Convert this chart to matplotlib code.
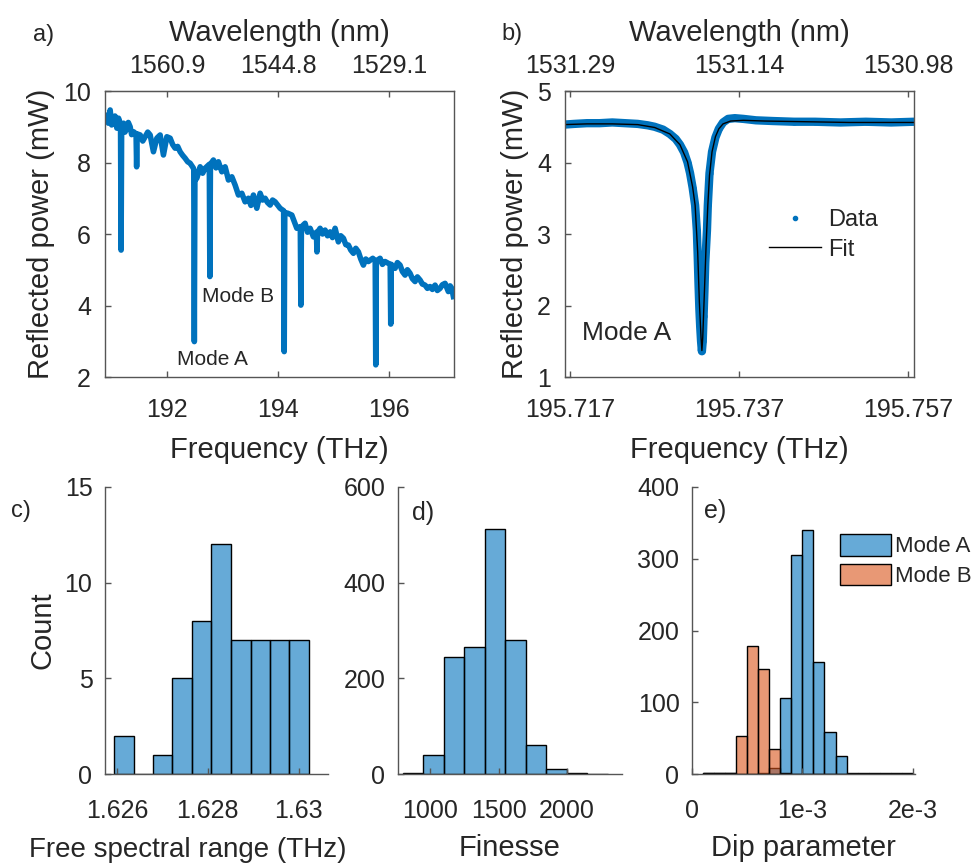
import numpy as np
import matplotlib
matplotlib.use("Agg")
import matplotlib.pyplot as plt
from matplotlib.lines import Line2D
from matplotlib.patches import Patch

plt.rcParams['font.family'] = ['Liberation Sans', 'DejaVu Sans']
plt.rcParams['text.color'] = '#262626'
plt.rcParams['axes.labelcolor'] = '#262626'
plt.rcParams['xtick.color'] = '#262626'
plt.rcParams['ytick.color'] = '#262626'

# ---- panel a: broadband reflection spectrum ----
spec_freq = [190.905, 190.940, 190.973, 191.000, 191.032, 191.060, 191.094, 191.124, 191.160, 191.170, 191.180,
             191.213, 191.240, 191.274, 191.300, 191.333, 191.360, 191.395, 191.440, 191.450, 191.460, 191.514,
             191.560, 191.604, 191.650, 191.694, 191.753, 191.814, 191.874, 191.933, 191.995, 192.054,
             192.100, 192.144, 192.190, 192.234, 192.280, 192.324, 192.370, 192.414, 192.474, 192.480, 192.490, 192.500,
             192.535, 192.595, 192.640, 192.685, 192.760, 192.770, 192.780, 192.834, 192.880, 192.924,
             192.986, 193.045, 193.105, 193.166, 193.225, 193.285, 193.346, 193.405,
             193.465, 193.510, 193.555, 193.616, 193.676, 193.720, 193.766, 193.810, 193.856, 193.900, 193.946, 194.036,
             194.100, 194.110, 194.120, 194.175, 194.247, 194.290, 194.337, 194.400, 194.410,
             194.420, 194.486, 194.530, 194.577, 194.636, 194.690, 194.700, 194.710, 194.757,
             194.800, 194.847, 194.890, 194.937, 194.980, 195.027, 195.086, 195.130, 195.177, 195.220, 195.267,
             195.310, 195.357, 195.400, 195.447, 195.490, 195.537, 195.580, 195.627, 195.706, 195.750, 195.760,
             195.770, 195.838, 195.880, 195.928, 196.020, 196.030, 196.040, 196.108, 196.150, 196.198, 196.240,
             196.288, 196.330, 196.378, 196.420, 196.468, 196.510, 196.559, 196.600, 196.649, 196.690, 196.739,
             196.780, 196.829, 196.870, 196.919, 196.960, 197.009, 197.068, 197.100, 197.130, 197.159]
spec_power = [9.32, 9.10, 9.47, 9.05, 9.19, 9.30, 8.96, 9.24, 9.05, 5.55, 9.05,
              9.10, 8.85, 8.96, 9.12, 9.00, 8.78, 8.86, 8.80, 7.88, 8.80, 8.77,
              8.60, 8.72, 8.85, 8.77, 8.30, 8.68, 8.77, 8.21, 8.72, 8.68,
              8.50, 8.40, 8.45, 8.30, 8.20, 8.12, 8.02, 7.98, 7.84, 7.80, 2.99, 7.50,
              7.56, 7.88, 7.70, 7.84, 7.95, 4.81, 7.95, 8.07, 7.85, 8.02,
              7.74, 7.88, 7.51, 7.60, 7.37, 7.09, 7.14, 6.90,
              7.00, 6.80, 7.09, 6.72, 7.14, 6.95, 7.00, 6.88, 6.81, 6.95, 6.90, 6.72,
              6.65, 2.71, 6.60, 6.58, 6.53, 6.35, 6.16, 6.20, 4.01,
              6.20, 6.30, 6.05, 6.16, 5.92, 6.05, 5.50, 6.05, 6.16,
              6.00, 6.11, 5.95, 6.06, 5.90, 6.16, 5.78, 5.95, 5.88, 5.70, 5.69,
              5.55, 5.46, 5.60, 5.50, 5.30, 5.13, 5.30, 5.23, 5.32, 5.25, 2.34,
              5.25, 5.32, 5.15, 5.23, 5.15, 3.48, 5.15, 5.04, 5.20, 5.13, 4.95,
              4.85, 5.00, 4.90, 4.75, 4.67, 4.80, 4.71, 4.60, 4.57, 4.48, 4.53,
              4.45, 4.57, 4.42, 4.48, 4.58, 4.62, 4.39, 4.55, 4.48, 4.25]
a_ticks = [192, 194, 196]
a_wl_labels = ['1560.9', '1544.8', '1529.1']

# ---- panel b: single resonance (mode A) ----
dip_freq = [195.7163, 195.7175, 195.7190, 195.7205, 195.7220, 195.7235, 195.7250,
            195.7262, 195.7270, 195.7280, 195.7288, 195.7295, 195.7300, 195.7305,
            195.7309, 195.7312, 195.7315, 195.7318, 195.7320, 195.7321, 195.7322,
            195.7323, 195.7324, 195.7325, 195.7326, 195.7327, 195.7328, 195.7329,
            195.7330, 195.7332, 195.7333, 195.7335, 195.7338, 195.7342, 195.7346,
            195.7351, 195.7357, 195.7365, 195.7375, 195.7390, 195.7410, 195.7435,
            195.7460, 195.7490, 195.7520, 195.7550, 195.7577]
dip_power = [4.53, 4.54, 4.55, 4.55, 4.56, 4.55, 4.54,
             4.52, 4.50, 4.46, 4.40, 4.33, 4.25, 4.14,
             4.00, 3.85, 3.65, 3.40, 3.05, 2.70, 2.30,
             1.95, 1.70, 1.50, 1.36, 1.50, 1.85, 2.20,
             2.60, 3.05, 3.40, 3.85, 4.15, 4.35, 4.47,
             4.56, 4.61, 4.62, 4.61, 4.59, 4.58, 4.57,
             4.57, 4.56, 4.57, 4.56, 4.57]
fit_freq = [195.7163, 195.7190, 195.7220, 195.7250, 195.7270, 195.7288, 195.7300,
            195.7309, 195.7315, 195.7318, 195.7321, 195.7323, 195.7325, 195.7326,
            195.7327, 195.7329, 195.7331, 195.7333, 195.7335, 195.7338, 195.7342,
            195.7346, 195.7351, 195.7360, 195.7375, 195.7400, 195.7450, 195.7500,
            195.7577]
fit_power = [4.53, 4.54, 4.54, 4.53, 4.49, 4.40, 4.25,
             4.01, 3.66, 3.40, 2.75, 2.05, 1.55, 1.37,
             1.55, 2.20, 2.85, 3.40, 3.82, 4.15, 4.36,
             4.47, 4.54, 4.58, 4.59, 4.58, 4.57, 4.56,
             4.56]
b_ticks = [195.717, 195.737, 195.757]
b_wl_labels = ['1531.29', '1531.14', '1530.98']

# ---- panel c: free spectral range histogram ----
fsr_edges = [1.62594, 1.62637, 1.62680, 1.62722, 1.62765, 1.62808,
             1.62851, 1.62894, 1.62936, 1.62979, 1.63022]
fsr_counts = [2, 0, 1, 5, 8, 12, 7, 7, 7, 7]

# ---- panel d: finesse histogram ----
fin_edges = [800, 950, 1100, 1250, 1400, 1550, 1700, 1850, 2000, 2150, 2300]
fin_counts = [2, 40, 245, 265, 513, 280, 60, 10, 3, 1]

# ---- panel e: dip parameter histograms ----
dip_edges = [0.1e-3, 0.2e-3, 0.3e-3, 0.4e-3, 0.5e-3, 0.6e-3, 0.7e-3, 0.8e-3,
             0.9e-3, 1.0e-3, 1.1e-3, 1.2e-3, 1.3e-3, 1.4e-3, 1.5e-3, 1.6e-3,
             1.7e-3, 1.8e-3, 1.9e-3, 2.0e-3]
modeA_counts = [1, 1, 1, 0, 0, 2, 8, 106, 305, 340, 156, 59, 25, 2, 1, 1, 1, 1, 1]
modeB_counts = [1, 1, 1, 53, 178, 147, 35, 2, 0, 0, 0, 0, 0, 0, 0, 0, 0, 0, 0]

blue = (0, 0.447, 0.741)
blue_face = (0, 0.447, 0.741, 0.6)
orange_face = (0.85, 0.325, 0.098, 0.6)
spine_col = '#555555'


def style_box(ax):
    for s in ax.spines.values():
        s.set_color(spine_col)
        s.set_linewidth(1)
    ax.tick_params(direction='in', length=4, width=1, color=spine_col, labelsize=18)
    ax.tick_params(axis='x', pad=15)
    ax.tick_params(axis='y', pad=10)


def style_open(ax):
    ax.spines['top'].set_visible(False)
    ax.spines['right'].set_visible(False)
    for s in ['left', 'bottom']:
        ax.spines[s].set_color(spine_col)
        ax.spines[s].set_linewidth(1)
    ax.tick_params(direction='in', length=4, width=1, color=spine_col, labelsize=18)
    ax.tick_params(axis='x', pad=18)
    ax.tick_params(axis='y', pad=9)


def hist_bars(ax, edges, counts, face):
    edges = np.array(edges)
    ax.bar(edges[:-1], counts, width=np.diff(edges), align='edge',
           facecolor=face, edgecolor='black', linewidth=1)


fig = plt.figure(figsize=(9.79, 8.65), dpi=100)

# panel a
ax_a = fig.add_axes([105/979, 1-377/865, 349/979, 286/865])
ax_a.plot(spec_freq, spec_power, color=blue, lw=4)
ax_a.set_xlim(190.88, 197.17)
ax_a.set_ylim(2, 10)
ax_a.set_xticks(a_ticks)
ax_a.set_yticks([2, 4, 6, 8, 10])
style_box(ax_a)
ax_a.set_xlabel('Frequency (THz)', fontsize=21, labelpad=10)
ax_a.set_ylabel('Reflected power (mW)', fontsize=21, labelpad=6)
top_a = ax_a.secondary_xaxis('top')
top_a.set_xticks(a_ticks, labels=a_wl_labels)
top_a.tick_params(direction='in', length=4, width=1, color=spine_col, labelsize=18, pad=9)
top_a.spines['top'].set_color(spine_col)
top_a.set_xlabel('Wavelength (nm)', fontsize=21, labelpad=10)
ax_a.text(192.18, 2.5, 'Mode A', fontsize=15, va='center')
ax_a.text(192.63, 4.24, 'Mode B', fontsize=15, va='center')

# panel b
ax_b = fig.add_axes([565/979, 1-377/865, 349/979, 286/865])
ax_b.plot(dip_freq, dip_power, color=blue, lw=6, marker='.', ms=7)
ax_b.plot(fit_freq, fit_power, color='black', lw=1)
ax_b.set_xlim(195.7164, 195.7577)
ax_b.set_ylim(1, 5)
ax_b.set_xticks(b_ticks)
ax_b.set_xticklabels(['195.717', '195.737', '195.757'])
ax_b.set_yticks([1, 2, 3, 4, 5])
style_box(ax_b)
ax_b.set_xlabel('Frequency (THz)', fontsize=21, labelpad=10)
ax_b.set_ylabel('Reflected power (mW)', fontsize=21, labelpad=6)
top_b = ax_b.secondary_xaxis('top')
top_b.set_xticks(b_ticks, labels=b_wl_labels)
top_b.tick_params(direction='in', length=4, width=1, color=spine_col, labelsize=18, pad=9)
top_b.spines['top'].set_color(spine_col)
top_b.set_xlabel('Wavelength (nm)', fontsize=21, labelpad=10)
ax_b.text(195.7184, 1.62, 'Mode A', fontsize=19, va='center')
handles = [Line2D([], [], ls='none', marker='.', color=blue, ms=6),
           Line2D([], [], color='black', lw=1)]
ax_b.legend(handles, ['Data', 'Fit'], loc='upper left', bbox_to_anchor=(0.525, 0.66),
            frameon=False, fontsize=17, handlelength=2.2, labelspacing=0.3,
            handletextpad=0.3)

# panel c
ax_c = fig.add_axes([105/979, 1-774/865, 223/979, 287/865])
hist_bars(ax_c, fsr_edges, fsr_counts, blue_face)
ax_c.set_xlim(1.62574, 1.63064)
ax_c.set_ylim(0, 15)
ax_c.set_xticks([1.626, 1.628, 1.63])
ax_c.set_xticklabels(['1.626', '1.628', '1.63'])
ax_c.set_yticks([0, 5, 10, 15])
style_open(ax_c)
ax_c.set_xlabel('Free spectral range (THz)', fontsize=20, labelpad=8)
ax_c.xaxis.set_label_coords(0.37, -0.22)
ax_c.set_ylabel('Count', fontsize=21, labelpad=6)

# panel d
ax_d = fig.add_axes([398/979, 1-774/865, 224/979, 287/865])
hist_bars(ax_d, fin_edges, fin_counts, blue_face)
ax_d.set_xlim(763.6, 2402.6)
ax_d.set_ylim(0, 600)
ax_d.set_xticks([1000, 1500, 2000])
ax_d.set_yticks([0, 200, 400, 600])
style_open(ax_d)
ax_d.set_xlabel('Finesse', fontsize=21, labelpad=8)

# panel e
ax_e = fig.add_axes([692/979, 1-774/865, 223/979, 287/865])
hist_bars(ax_e, dip_edges, modeA_counts, blue_face)
hist_bars(ax_e, dip_edges, modeB_counts, orange_face)
ax_e.set_xlim(0, 2.02e-3)
ax_e.set_ylim(0, 400)
ax_e.set_xticks([0, 1e-3, 2e-3])
ax_e.set_xticklabels(['0', '1e-3', '2e-3'])
ax_e.set_yticks([0, 100, 200, 300, 400])
style_open(ax_e)
ax_e.set_xlabel('Dip parameter', fontsize=21, labelpad=8)
leg_handles = [Patch(facecolor=blue_face, edgecolor='black'),
               Patch(facecolor=orange_face, edgecolor='black')]
ax_e.legend(leg_handles, ['Mode A', 'Mode B'], loc='upper left',
            bbox_to_anchor=(0.572, 0.905), frameon=False, fontsize=16,
            handlelength=2.3, handleheight=1.1, labelspacing=0.3, handletextpad=0.2)

# panel letters
fig.text(44/979, 1-35/865, 'a)', fontsize=17, ha='center', va='center')
fig.text(512/979, 1-34/865, 'b)', fontsize=17, ha='center', va='center')
fig.text(21/979, 1-511/865, 'c)', fontsize=17, ha='center', va='center')
fig.text(423/979, 1-513/865, 'd)', fontsize=18, ha='center', va='center')
fig.text(715/979, 1-511/865, 'e)', fontsize=18, ha='center', va='center')

fig.savefig('out.png', dpi=100)
